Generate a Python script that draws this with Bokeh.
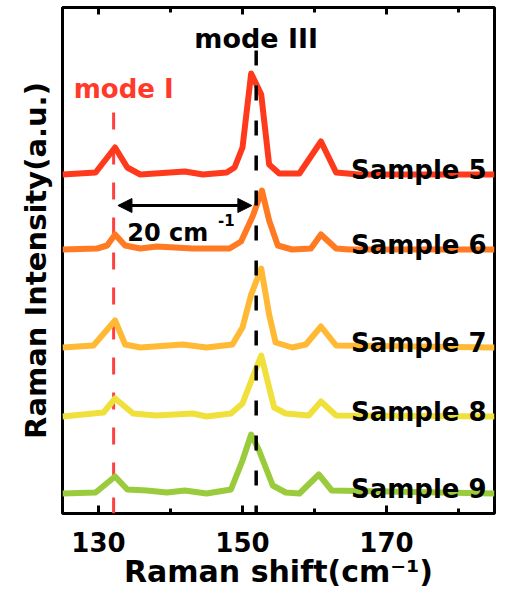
from bokeh.plotting import figure
from bokeh.models import Range1d, LinearAxis, FixedTicker, Arrow, NormalHead, ColumnDataSource
from bokeh.core.properties import value
from bokeh.embed import file_html
from bokeh.resources import INLINE

FONT = "DejaVu Sans"

# ---- data ----
samples = ["Sample 5", "Sample 6", "Sample 7", "Sample 8", "Sample 9"]
colors = ["#FF3A1C", "#FF7A22", "#FFB935", "#F0E03C", "#9ACB3C"]
offsets = [3.39, 2.64, 1.66, 0.97, 0.20]

x5 = [125, 129.6, 132.3, 134.0, 135.8, 142.0, 144.5, 147.8, 148.9, 150.0, 151.2, 152.6, 153.7, 155.1, 157.9, 160.9, 163.0, 166.1, 185]
i5 = [0, 0.02, 0.27, 0.07, 0, 0.03, 0, 0.02, 0.07, 0.27, 1.01, 0.80, 0.10, 0.01, 0.01, 0.33, 0.02, 0, 0]

x6 = [125, 129.8, 131.2, 132.3, 133.7, 135.8, 138.1, 143.1, 148.2, 149.8, 151.4, 152.7, 153.7, 154.9, 156.9, 159.5, 160.9, 163.0, 164.8, 185]
i6 = [0, 0.01, 0.04, 0.15, 0.04, 0.01, 0.03, 0.01, 0.01, 0.08, 0.33, 0.59, 0.29, 0.04, 0, 0.01, 0.15, 0.01, 0, 0]

x7 = [125, 129.3, 132.3, 133.7, 135.8, 141.7, 145.0, 148.6, 150.0, 151.2, 152.6, 153.7, 154.6, 156.9, 158.8, 160.9, 163.0, 185]
i7 = [0, 0.02, 0.27, 0.03, 0, 0.03, 0, 0.03, 0.20, 0.53, 0.79, 0.33, 0.05, 0, 0.03, 0.21, 0.02, 0]

x8 = [125, 130.7, 132.3, 134.8, 138.0, 143.1, 145.0, 148.4, 150.0, 151.4, 152.6, 153.7, 154.4, 156.0, 159.2, 160.9, 163.0, 185]
i8 = [0, 0.04, 0.18, 0.03, 0.01, 0.03, 0, 0.03, 0.13, 0.39, 0.61, 0.29, 0.09, 0.03, 0.01, 0.15, 0.01, 0]

x9 = [125, 129.6, 132.3, 134.0, 136.7, 139.5, 142.0, 145.0, 148.4, 150.0, 151.2, 152.3, 154.2, 156.0, 157.9, 160.6, 162.4, 185]
i9 = [0, 0.01, 0.17, 0.04, 0.03, 0.01, 0.03, 0, 0.04, 0.33, 0.59, 0.43, 0.08, 0.01, 0, 0.19, 0.03, 0]

xs_all = [x5, x6, x7, x8, x9]
is_all = [i5, i6, i7, i8, i9]

major_ticks = [130, 150, 170]
minor_ticks = [140, 160, 180]

mode_I = 132.1
mode_III = 151.9
shift_label = "20 cm"

# ---- figure ----
p = figure(width=510, height=592, x_range=Range1d(125, 185), y_range=Range1d(0, 5.06),
           output_backend="svg", toolbar_location=None,
           min_border_left=62, min_border_right=16, min_border_top=7, min_border_bottom=79)
p.background_fill_color = "white"
p.border_fill_color = "white"
p.xgrid.visible = False
p.ygrid.visible = False
p.outline_line_color = "black"
p.outline_line_width = 3

# bottom axis
xa = p.xaxis[0]
xa.ticker = FixedTicker(ticks=major_ticks, minor_ticks=minor_ticks)
xa.axis_line_color = None
xa.major_tick_in = 8
xa.major_tick_out = 0
xa.minor_tick_in = 5
xa.minor_tick_out = 0
xa.major_tick_line_width = 3
xa.minor_tick_line_width = 3
xa.major_label_text_font = FONT
xa.major_label_text_font_style = "bold"
xa.major_label_text_font_size = "26px"
xa.major_label_text_color = "black"
xa.major_label_standoff = 18
xa.axis_label = "Raman shift(cm\u207b\u00b9)"
xa.axis_label_text_font = FONT
xa.axis_label_text_font_style = "bold"
xa.axis_label_text_font_size = "30px"
xa.axis_label_text_color = "black"
xa.axis_label_standoff = -1

# top axis (ticks only)
ta = LinearAxis(ticker=FixedTicker(ticks=major_ticks, minor_ticks=minor_ticks))
ta.axis_line_color = None
ta.major_tick_in = 7
ta.major_tick_out = 0
ta.minor_tick_in = 5
ta.minor_tick_out = 0
ta.major_tick_line_width = 3
ta.minor_tick_line_width = 3
ta.major_label_overrides = {t: "" for t in major_ticks}
ta.major_label_text_font_size = "1px"
ta.major_label_standoff = 0
p.add_layout(ta, "above")

# left axis (label only)
ya = p.yaxis[0]
ya.ticker = FixedTicker(ticks=[])
ya.axis_line_color = None
ya.major_tick_line_color = None
ya.minor_tick_line_color = None
ya.axis_label = "Raman Intensity(a.u.)"
ya.axis_label_text_font = FONT
ya.axis_label_text_font_style = "bold"
ya.axis_label_text_font_size = "29px"
ya.axis_label_text_color = "black"
ya.axis_label_standoff = 10

# dashed mode lines (drawn first, beneath spectra)
p.line([mode_I, mode_I], [4.01, 0], line_color="#FF4040", line_width=3, line_dash="17 18")

# spectra
for xs, ii, off, c in zip(xs_all, is_all, offsets, colors):
    p.line(xs, [off + v for v in ii], line_color=c, line_width=6, line_join="round")

p.line([mode_III, mode_III], [4.63, 0], line_color="black", line_width=3.5, line_dash="15 20")

# sample labels
lab_src = ColumnDataSource(dict(x=[183.9] * len(samples), y=[o + 0.05 for o in offsets], t=samples))
p.text(x="x", y="y", text="t", source=lab_src, text_align="right", text_baseline="alphabetic",
       text_font=value(FONT), text_font_style="bold", text_font_size="26px", text_color="black")

# mode labels
p.text(x=[mode_III], y=[4.75], text=["mode III"], text_align="center", text_baseline="middle",
       text_font=value(FONT), text_font_style="bold", text_font_size="27px", text_color="black")
p.text(x=[133.5], y=[4.25], text=["mode I"], text_align="center", text_baseline="middle",
       text_font=value(FONT), text_font_style="bold", text_font_size="26px", text_color="#FF3A2A")

# shift arrow
head_kw = dict(size=14, fill_color="black", line_color="black", line_width=1)
p.add_layout(Arrow(start=NormalHead(**head_kw), end=NormalHead(**head_kw),
                   x_start=132.7, y_start=3.08, x_end=151.3, y_end=3.08,
                   line_color="black", line_width=3))
p.text(x=[134.0], y=[2.81], text=[shift_label], text_align="left", text_baseline="alphabetic",
       text_font=value(FONT), text_font_style="bold", text_font_size="24px", text_color="black")
p.text(x=[146.6], y=[2.94], text=["-1"], text_align="left", text_baseline="alphabetic",
       text_font=value(FONT), text_font_style="bold", text_font_size="15px", text_color="black")

open("out.html", "w").write(file_html(p, INLINE))
